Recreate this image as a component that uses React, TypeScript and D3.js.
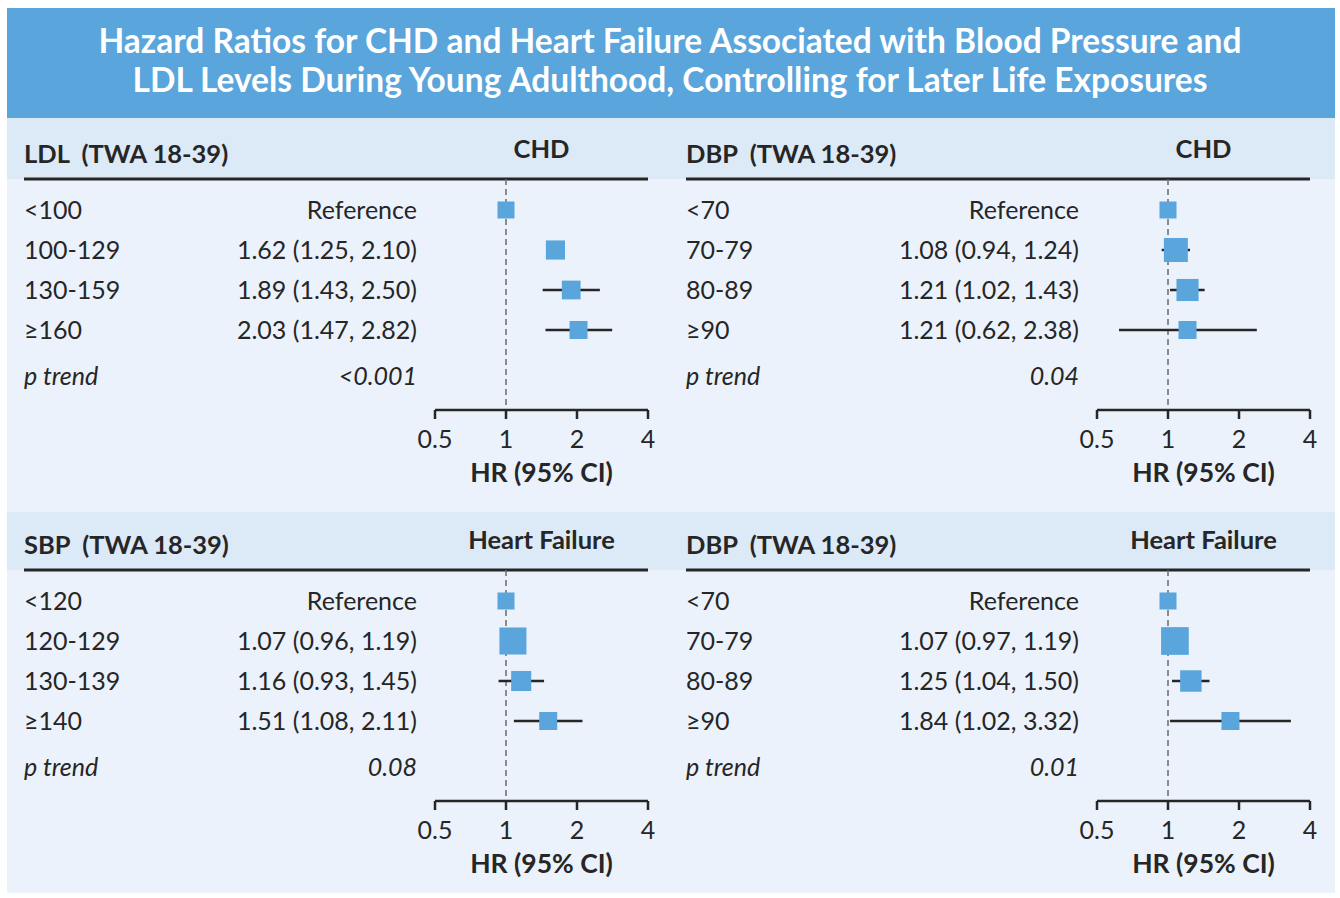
import * as d3 from "d3";

// row labels
const ldlLabels = ["<100", "100-129", "130-159", "≥160"];
const sbpLabels = ["<120", "120-129", "130-139", "≥140"];
const dbpLabels = ["<70", "70-79", "80-89", "≥90"];

// hazard ratios, first row is the reference group
const ldlChdHR = [1, 1.62, 1.89, 2.03];
const ldlChdLo = [1, 1.25, 1.43, 1.47];
const ldlChdHi = [1, 2.1, 2.5, 2.82];

const dbpChdHR = [1, 1.08, 1.21, 1.21];
const dbpChdLo = [1, 0.94, 1.02, 0.62];
const dbpChdHi = [1, 1.24, 1.43, 2.38];

const sbpHfHR = [1, 1.07, 1.16, 1.51];
const sbpHfLo = [1, 0.96, 0.93, 1.08];
const sbpHfHi = [1, 1.19, 1.45, 2.11];

const dbpHfHR = [1, 1.07, 1.25, 1.84];
const dbpHfLo = [1, 0.97, 1.04, 1.02];
const dbpHfHi = [1, 1.19, 1.5, 3.32];

// the source figure shows no whisker on LDL 100-129
const ldlChdWhisker = [false, false, true, true];
const allWhiskers = [false, true, true, true];

const pTrends = ["<0.001", "0.04", "0.08", "0.01"];
const tickValues = [0.5, 1, 2, 4];

const BLUE = "#5aa5dc";
const INK = "#262626";
const FONT = "Lato, 'Open Sans', sans-serif";

type PanelProps = {
  x0: number;
  y0: number;
  exposure: string;
  outcome: string;
  labels: string[];
  hr: number[];
  lo: number[];
  hi: number[];
  whisker: boolean[];
  ptrend: string;
};

// box size grows with precision (1 / log CI width), clamped
const boxSize = d3
  .scaleLinear()
  .domain([1 / 0.65, 1 / 0.2])
  .range([18, 28])
  .clamp(true);

const Panel = ({ x0, y0, exposure, outcome, labels, hr, lo, hi, whisker, ptrend }: PanelProps) => {
  const x = d3.scaleLog().base(2).domain([0.5, 4]).range([x0 + 411, x0 + 624]);
  const rowY = d3.scaleLinear().domain([0, 1]).range([y0 + 31, y0 + 71]);
  const lineY = y0;
  const axisY = y0 + 231;
  const valueX = x0 + 393;
  const mid = (x(0.5) + x(4)) / 2;

  return (
    <g fontFamily={FONT} fill={INK}>
      <text x={x0} y={y0 - 16} fontSize={25.5} fontWeight="bold" style={{ whiteSpace: "pre" }}>
        {exposure}
      </text>
      <text x={mid} y={y0 - 21} fontSize={25.5} fontWeight="bold" textAnchor="middle">
        {outcome}
      </text>
      <line x1={x0} x2={x0 + 624} y1={lineY} y2={lineY} stroke={INK} strokeWidth={3} />
      <line
        x1={x(1)}
        x2={x(1)}
        y1={lineY}
        y2={axisY}
        stroke="#6b6b6b"
        strokeWidth={1.5}
        strokeDasharray="6,4"
      />
      {labels.map((lab, i) => {
        const cy = rowY(i);
        const ref = i === 0;
        const size = ref ? 17 : boxSize(1 / Math.log(hi[i] / lo[i]));
        return (
          <g key={lab}>
            <text x={x0} y={cy + 8.5} fontSize={25}>
              {lab}
            </text>
            <text x={valueX} y={cy + 8.5} fontSize={25} textAnchor="end">
              {ref ? "Reference" : `${hr[i].toFixed(2)} (${lo[i].toFixed(2)}, ${hi[i].toFixed(2)})`}
            </text>
            {whisker[i] && (
              <line x1={x(lo[i])} x2={x(hi[i])} y1={cy} y2={cy} stroke={INK} strokeWidth={2.5} />
            )}
            <rect x={x(hr[i]) - size / 2} y={cy - size / 2} width={size} height={size} fill={BLUE} />
          </g>
        );
      })}
      <text x={x0} y={y0 + 206} fontSize={25} fontStyle="italic">
        p trend
      </text>
      <text x={valueX} y={y0 + 206} fontSize={25} fontStyle="italic" textAnchor="end">
        {ptrend}
      </text>
      <line x1={x(0.5)} x2={x(4)} y1={axisY} y2={axisY} stroke={INK} strokeWidth={2.5} />
      {tickValues.map((t) => (
        <g key={t}>
          <line x1={x(t)} x2={x(t)} y1={axisY} y2={axisY + 9} stroke={INK} strokeWidth={2.5} />
          <text x={x(t)} y={axisY + 38} fontSize={25} textAnchor="middle">
            {t}
          </text>
        </g>
      ))}
      <text x={mid} y={axisY + 72} fontSize={26.5} fontWeight="bold" textAnchor="middle">
        HR (95% CI)
      </text>
    </g>
  );
};

export default function App() {
  const W = 1340;
  const H = 898;
  return (
    <svg
      width={W}
      height={H}
      style={{ position: "absolute", left: 0, top: 0, background: "#fff" }}
    >
      <rect x={7} y={8} width={1328} height={885} fill="#ebf2fb" />
      <rect x={7} y={8} width={1328} height={110} fill={BLUE} />
      <rect x={7} y={118} width={1328} height={61} fill="#dce9f6" />
      <rect x={7} y={512} width={1328} height={58} fill="#dce9f6" />
      <text
        x={670}
        y={53}
        fill="#fff"
        fontFamily={FONT}
        fontWeight="bold"
        fontSize={33.5}
        textAnchor="middle"
      >
        Hazard Ratios for CHD and Heart Failure Associated with Blood Pressure and
      </text>
      <text
        x={670}
        y={92}
        fill="#fff"
        fontFamily={FONT}
        fontWeight="bold"
        fontSize={33.5}
        textAnchor="middle"
      >
        LDL Levels During Young Adulthood, Controlling for Later Life Exposures
      </text>
      <Panel
        x0={24}
        y0={179}
        exposure="LDL  (TWA 18-39)"
        outcome="CHD"
        labels={ldlLabels}
        hr={ldlChdHR}
        lo={ldlChdLo}
        hi={ldlChdHi}
        whisker={ldlChdWhisker}
        ptrend={pTrends[0]}
      />
      <Panel
        x0={686}
        y0={179}
        exposure="DBP  (TWA 18-39)"
        outcome="CHD"
        labels={dbpLabels}
        hr={dbpChdHR}
        lo={dbpChdLo}
        hi={dbpChdHi}
        whisker={allWhiskers}
        ptrend={pTrends[1]}
      />
      <Panel
        x0={24}
        y0={570}
        exposure="SBP  (TWA 18-39)"
        outcome="Heart Failure"
        labels={sbpLabels}
        hr={sbpHfHR}
        lo={sbpHfLo}
        hi={sbpHfHi}
        whisker={allWhiskers}
        ptrend={pTrends[2]}
      />
      <Panel
        x0={686}
        y0={570}
        exposure="DBP  (TWA 18-39)"
        outcome="Heart Failure"
        labels={dbpLabels}
        hr={dbpHfHR}
        lo={dbpHfLo}
        hi={dbpHfHi}
        whisker={allWhiskers}
        ptrend={pTrends[3]}
      />
    </svg>
  );
}
